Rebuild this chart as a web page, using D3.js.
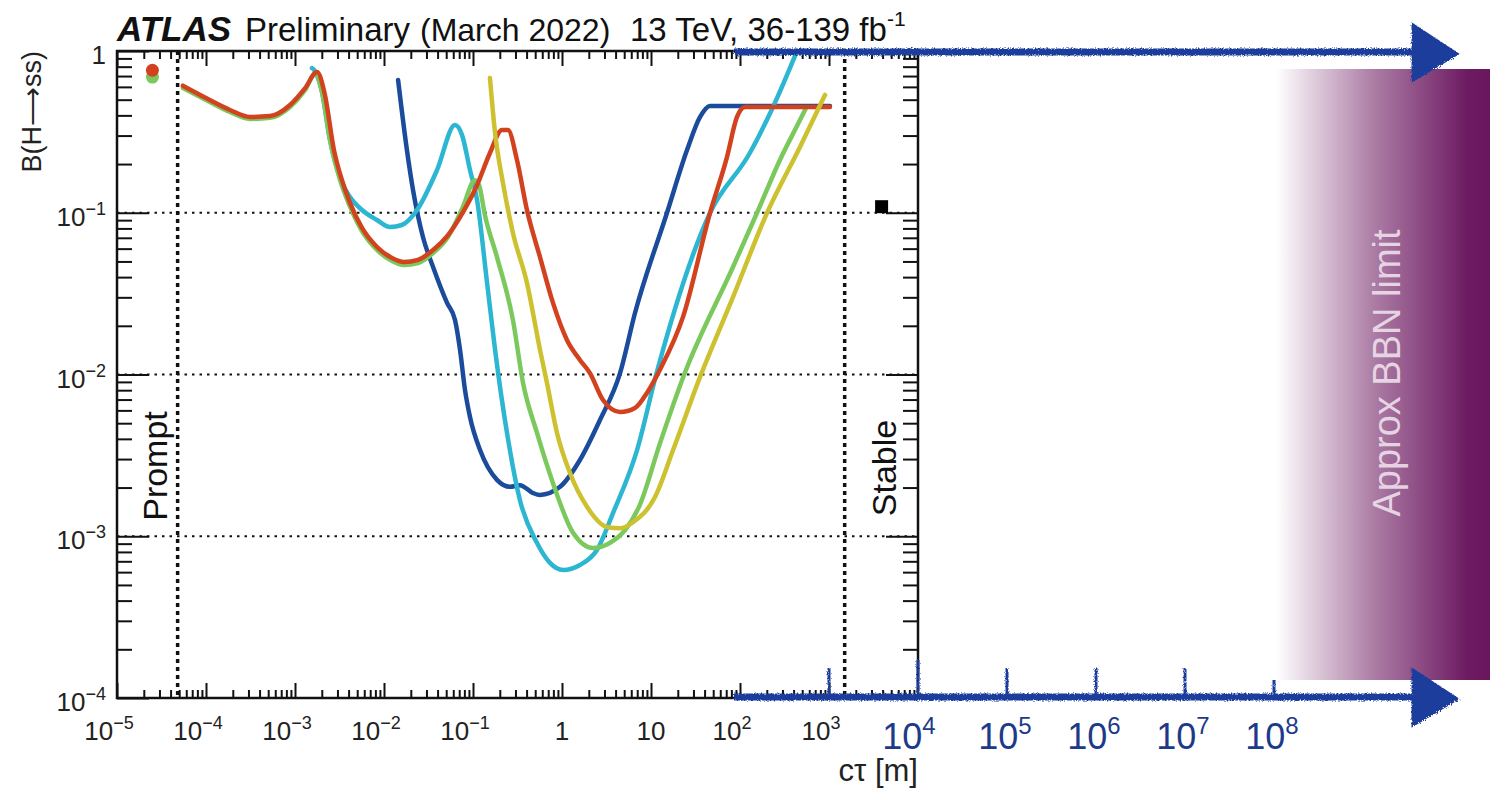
<!DOCTYPE html>
<html lang="en">
<head>
<meta charset="UTF-8" />
<script src="https://d3js.org/d3.v7.min.js"></script>
<style>
  body { margin: 0; background: #fff; }
  svg text { font-family: "Liberation Sans", Arial, Helvetica, sans-serif; }
</style>
</head>
<body>
<svg id="chart" width="1490" height="791"></svg>
<script>
// ---- data: [c*tau in m, B(H->ss)] ----
const blueCurve = [[0.0144,0.662],[0.0181,0.244],[0.0212,0.138],[0.0274,0.0708],[0.0356,0.0462],[0.0511,0.0277],[0.0628,0.0217],[0.0715,0.0142],[0.0813,0.00802],[0.0925,0.00546],[0.120,0.00341],[0.186,0.00223],[0.261,0.00202],[0.337,0.00207],[0.472,0.00185],[0.566,0.0018],[0.95,0.00202],[1.59,0.00296],[2.67,0.00523],[4.49,0.0102],[6.61,0.024],[15.1,0.0996],[25.4,0.244],[35.6,0.391],[46,0.457],[1025,0.457]];
const cyanCurve = [[0.00155,0.785],[0.00168,0.75],[0.00201,0.558],[0.00247,0.282],[0.00321,0.164],[0.00415,0.125],[0.00566,0.104],[0.00834,0.0902],[0.0117,0.0816],[0.0159,0.084],[0.0235,0.104],[0.0395,0.184],[0.0628,0.349],[0.0752,0.303],[0.0925,0.184],[0.111,0.12],[0.144,0.0368],[0.177,0.0142],[0.241,0.00435],[0.337,0.00167],[0.524,0.000908],[0.733,0.000684],[1.03,0.000618],[1.59,0.000664],[2.47,0.000822],[3.74,0.00139],[6.97,0.00341],[11.4,0.00993],[46,0.0996],[129,0.234],[235,0.451],[437,1.0]];
const greenCurve = [[5.5e-5,0.59],[1e-4,0.498],[1.86e-4,0.42],[3.12e-4,0.38],[5.24e-4,0.386],[8.79e-4,0.451],[0.0013,0.574],[0.00168,0.721],[0.00201,0.558],[0.00247,0.282],[0.00321,0.159],[0.00415,0.109],[0.00566,0.0771],[0.00834,0.0589],[0.0123,0.0503],[0.0168,0.0475],[0.0241,0.0489],[0.0356,0.0564],[0.0524,0.0708],[0.0772,0.109],[0.105,0.159],[0.117,0.148],[0.136,0.0969],[0.186,0.0532],[0.281,0.0217],[0.365,0.00886],[0.524,0.00435],[0.792,0.00213],[1.33,0.00105],[2.23,0.000846],[3.4,0.000905],[5.1,0.00109],[7.52,0.00157],[12.6,0.00375],[23.5,0.00993],[83.4,0.0462],[155,0.0996],[281,0.212],[472,0.374],[552,0.445]];
const yellowCurve = [[0.155,0.681],[0.177,0.311],[0.217,0.153],[0.281,0.075],[0.404,0.0368],[0.566,0.0142],[0.678,0.00886],[0.879,0.00435],[1.23,0.00246],[1.91,0.00152],[3.21,0.00114],[4.49,0.00112],[6.28,0.00122],[11.1,0.00175],[17.7,0.00341],[35.6,0.00966],[83.4,0.0301],[201,0.0996],[472,0.255],[902,0.535]];
const redCurve = [[5.5e-5,0.61],[1e-4,0.512],[1.86e-4,0.432],[3.12e-4,0.391],[5.24e-4,0.396],[8.79e-4,0.464],[0.0013,0.59],[0.00177,0.741],[0.00217,0.535],[0.00274,0.244],[0.00337,0.159],[0.00415,0.115],[0.00566,0.0805],[0.00834,0.0614],[0.0123,0.0525],[0.0168,0.0496],[0.0241,0.0511],[0.0356,0.0589],[0.0524,0.0728],[0.0772,0.101],[0.111,0.148],[0.155,0.234],[0.212,0.325],[0.247,0.325],[0.312,0.212],[0.404,0.104],[0.566,0.0532],[0.792,0.0277],[1.14,0.0163],[1.59,0.0123],[2.06,0.0102],[2.89,0.00695],[4.49,0.00586],[6.61,0.00621],[9.01,0.00769],[12.6,0.0107],[22.9,0.0227],[46,0.0996],[71.4,0.221],[92.5,0.391],[114,0.451],[1025,0.451]];

const promptRed = [2.5e-5, 0.76];
const promptGreen = [2.5e-5, 0.69];
const stableLimit = [3.9e3, 0.109];
const promptLine = 4.8e-5;
const stableLine = 1.5e3;

const xMajor = [1e-5, 1e-4, 1e-3, 1e-2, 1e-1, 1, 10, 1e2, 1e3];
const xMajorLabels = [["10","\u22125"],["10","\u22124"],["10","\u22123"],["10","\u22122"],["10","\u22121"],["1",""],["10",""],["10","2"],["10","3"]];
const yMajor = [1e-4, 1e-3, 1e-2, 1e-1, 1];
const yMajorLabels = [["10","\u22124"],["10","\u22123"],["10","\u22122"],["10","\u22121"],["1",""]];
const gridValues = [1e-3, 1e-2, 1e-1];
const extTicks = [1e3, 1e5, 1e6, 1e7, 1e8];
const extLabels = [[1e4,"4"],[1e5,"5"],[1e6,"6"],[1e7,"7"],[1e8,"8"]];

const colors = { blue: "#1b4c9c", cyan: "#2cb6d2", green: "#7bc95d", yellow: "#cdc12f", red: "#d2421f" };

// ---- setup ----
const svg = d3.select("#chart");
const pLeft = 117, pRight = 918, pTop = 51, pBottom = 698;
const x = d3.scaleLog().domain([1e-5, 1e4]).range([pLeft, pRight]);
const y = d3.scaleLog().domain([1e-4, 1]).range([pBottom, pTop]);

const defs = svg.append("defs");
const grad = defs.append("linearGradient").attr("id", "bbn").attr("x1", "0").attr("x2", "1");
grad.append("stop").attr("offset", "0%").attr("stop-color", "#ffffff");
grad.append("stop").attr("offset", "45%").attr("stop-color", "#ad7ea6");
grad.append("stop").attr("offset", "90%").attr("stop-color", "#6c1a61");
grad.append("stop").attr("offset", "100%").attr("stop-color", "#6a165e");
const rough = defs.append("filter").attr("id", "rough").attr("x", "-5%").attr("y", "-50%").attr("width", "110%").attr("height", "200%");
rough.append("feTurbulence").attr("type", "fractalNoise").attr("baseFrequency", "0.7").attr("numOctaves", 2).attr("result", "n");
rough.append("feDisplacementMap").attr("in", "SourceGraphic").attr("in2", "n").attr("scale", 4);

// BBN band
svg.append("rect")
  .attr("x", x(1e8) + 2).attr("y", 69)
  .attr("width", 1490 - x(1e8) - 2).attr("height", 611)
  .attr("fill", "url(#bbn)");
svg.append("text")
  .attr("transform", "translate(1400,373) rotate(-90)")
  .attr("text-anchor", "middle")
  .attr("font-size", 38)
  .attr("fill", "#f0e2ee").attr("fill-opacity", 0.88)
  .text("Approx BBN limit");

// helper for 10^n labels
function powLabel(g, px, py, base, exp, size, supSize, anchor, color) {
  const t = g.append("text").attr("x", px).attr("y", py)
    .attr("font-size", size).attr("text-anchor", anchor).attr("fill", color);
  t.append("tspan").text(base);
  if (exp) t.append("tspan").attr("dy", -size * 0.42).attr("font-size", supSize).text(exp);
  return t;
}

// gridlines
svg.append("g").selectAll("line").data(gridValues).join("line")
  .attr("x1", pLeft).attr("x2", pRight)
  .attr("y1", d => y(d)).attr("y2", d => y(d))
  .attr("stroke", "#111").attr("stroke-width", 2).attr("stroke-dasharray", "2.5,5");

// prompt / stable dotted lines
svg.append("g").selectAll("line").data([promptLine, stableLine]).join("line")
  .attr("x1", d => x(d)).attr("x2", d => x(d))
  .attr("y1", pTop).attr("y2", pBottom)
  .attr("stroke", "#111").attr("stroke-width", 3.5).attr("stroke-dasharray", "4,4");

// axes ticks
const xMinor = x.ticks().filter(d => !xMajor.includes(d) && d !== 1e4 && d !== 1e-5);
const yMinor = y.ticks().filter(d => !yMajor.includes(d));
const axes = svg.append("g").attr("class", "axes");
function tickGroup(axis, tr) {
  const g = axes.append("g").attr("transform", tr).call(axis);
  g.select(".domain").remove();
  g.selectAll("line").attr("stroke", "#111").attr("stroke-width", 2);
  g.selectAll("text").remove();
}
tickGroup(d3.axisBottom(x).tickValues(xMajor).tickSize(-15), `translate(0,${pBottom})`);
tickGroup(d3.axisBottom(x).tickValues(xMinor).tickSize(-8), `translate(0,${pBottom})`);
tickGroup(d3.axisTop(x).tickValues(xMajor).tickSize(-15), `translate(0,${pTop})`);
tickGroup(d3.axisTop(x).tickValues(xMinor).tickSize(-8), `translate(0,${pTop})`);
tickGroup(d3.axisLeft(y).tickValues(yMajor).tickSize(-32), `translate(${pLeft},0)`);
tickGroup(d3.axisLeft(y).tickValues(yMinor).tickSize(-15), `translate(${pLeft},0)`);
tickGroup(d3.axisRight(y).tickValues(yMajor).tickSize(-32), `translate(${pRight},0)`);
tickGroup(d3.axisRight(y).tickValues(yMinor).tickSize(-15), `translate(${pRight},0)`);

axes.append("rect").attr("x", pLeft).attr("y", pTop)
  .attr("width", pRight - pLeft).attr("height", pBottom - pTop)
  .attr("fill", "none").attr("stroke", "#111").attr("stroke-width", 2.5);

// tick labels
const labels = svg.append("g");
xMajor.forEach((d, i) => {
  powLabel(labels, x(d) - (xMajorLabels[i][1] ? 8 : 0), 740, xMajorLabels[i][0], xMajorLabels[i][1], 26, 18, "middle", "#222");
});
yMajor.forEach((d, i) => {
  powLabel(labels, 106, y(d) + 13, yMajorLabels[i][0], yMajorLabels[i][1], 26, 18, "end", "#222");
});

// axis titles
svg.append("text").attr("transform", "translate(41,51) rotate(-90)")
  .attr("text-anchor", "end").attr("font-size", 27).attr("fill", "#222")
  .text("B(H\u27f6ss)");
svg.append("text").attr("x", pRight).attr("y", 781)
  .attr("text-anchor", "end").attr("font-size", 31).attr("fill", "#222")
  .text("c\u03c4 [m]");

// header
const head = svg.append("g").attr("font-size", 33).attr("fill", "#111");
head.append("text").attr("x", 117).attr("y", 41).attr("font-size", 35).attr("font-weight", "bold").attr("font-style", "italic").text("ATLAS");
head.append("text").attr("x", 245).attr("y", 41).text("Preliminary");
head.append("text").attr("x", 420).attr("y", 41).attr("font-size", 32).text("(March 2022)");
const lumi = head.append("text").attr("x", 630).attr("y", 41);
lumi.append("tspan").text("13 TeV, 36-139 fb");
lumi.append("tspan").attr("dy", -15).attr("font-size", 21).text("-1");

// region labels
svg.append("text").attr("transform", `translate(${x(promptLine) - 11},466) rotate(-90)`)
  .attr("text-anchor", "middle").attr("font-size", 34).attr("fill", "#111").text("Prompt");
svg.append("text").attr("transform", `translate(${x(stableLine) + 51},468) rotate(-90)`)
  .attr("text-anchor", "middle").attr("font-size", 34).attr("fill", "#111").text("Stable");

// curves
const line = d3.line().x(d => x(d[0])).y(d => y(d[1])).curve(d3.curveMonotoneX);
const series = [
  [blueCurve, colors.blue], [cyanCurve, colors.cyan], [greenCurve, colors.green],
  [redCurve, colors.red], [yellowCurve, colors.yellow]
];
svg.append("g").selectAll("path").data(series).join("path")
  .attr("d", d => line(d[0]))
  .attr("fill", "none").attr("stroke", d => d[1])
  .attr("stroke-width", 4.5).attr("stroke-linejoin", "round").attr("stroke-linecap", "round");

// markers
svg.append("circle").attr("cx", x(promptGreen[0])).attr("cy", y(promptGreen[1])).attr("r", 6.5).attr("fill", colors.green);
svg.append("circle").attr("cx", x(promptRed[0])).attr("cy", y(promptRed[1])).attr("r", 6.5).attr("fill", colors.red);
svg.append("rect").attr("x", x(stableLimit[0]) - 6.5).attr("y", y(stableLimit[1]) - 6.5)
  .attr("width", 13).attr("height", 13).attr("fill", "#000");

// hand-drawn extension arrows
const arrowBlue = "#1a3d9c";
const ext = svg.append("g").attr("filter", "url(#rough)").attr("fill", arrowBlue).attr("stroke", arrowBlue);
[52, 697].forEach(yy => {
  ext.append("line").attr("x1", x(1e2) - 6).attr("x2", 1425).attr("y1", yy).attr("y2", yy)
    .attr("stroke-width", 7);
  ext.append("path").attr("d", `M1413,${yy - 27}L1457,${yy + 2}L1413,${yy + 28}Z`).attr("stroke-width", 3);
});
ext.selectAll("line.tick").data(extTicks).join("line").attr("class", "tick")
  .attr("x1", d => x(d)).attr("x2", d => x(d))
  .attr("y1", d => d === 1e8 ? 680 : 668).attr("y2", 697)
  .attr("stroke-width", 3);
ext.append("line").attr("x1", x(1e4)).attr("x2", x(1e4)).attr("y1", 660).attr("y2", 697).attr("stroke-width", 3);

const extG = svg.append("g");
extLabels.forEach((d, i) => {
  powLabel(extG, x(d[0]) - (i === 0 ? 9 : 2), 749, "10", d[1], 36, 24, "middle", "#1d3a8a");
});
</script>
</body>
</html>
